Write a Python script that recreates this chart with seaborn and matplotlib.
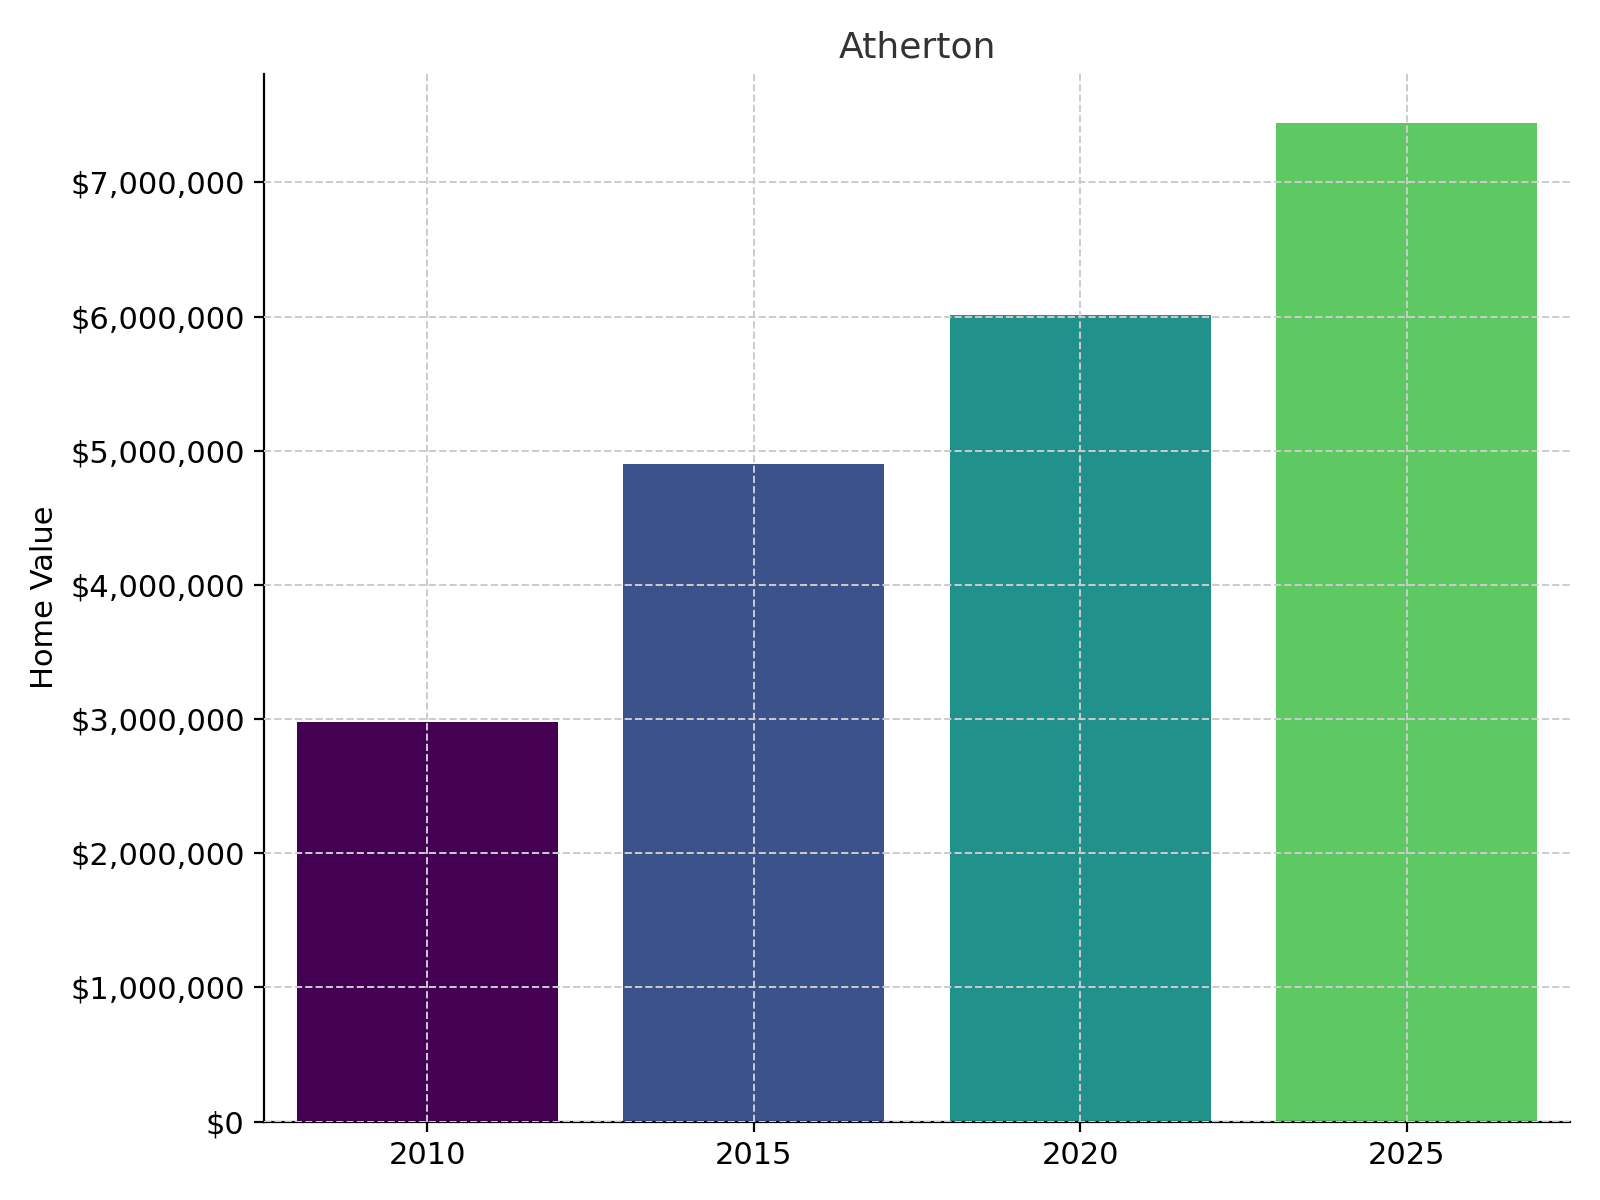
import matplotlib
matplotlib.use("Agg")
import matplotlib.pyplot as plt
import seaborn as sns
import pandas as pd
from matplotlib.ticker import FuncFormatter

years = ["2010", "2015", "2020", "2025"]
values = [2980000, 4900000, 6010000, 7440000]
colors = ["#440154", "#3b528b", "#21918c", "#5ec962"]

df = pd.DataFrame({"Year": years, "Value": values})
fig, ax = plt.subplots(figsize=(8, 6), dpi=200)
sns.barplot(data=df, x="Year", y="Value", hue="Year", palette=colors, legend=False,
            ax=ax, width=0.8, saturation=1)
ax.set_title("Atherton", fontsize=13, color="#333333")
ax.set_xlabel("")
ax.set_ylabel("Home Value", fontsize=11)
ax.yaxis.set_major_formatter(FuncFormatter(lambda v, p: f"${v:,.0f}"))
ax.tick_params(labelsize=11)
ax.set_ylim(0, 7810000)
ax.grid(True, linestyle="--", color="#cccccc", linewidth=0.7)
ax.set_axisbelow(False)
for s in ["top", "right"]:
    ax.spines[s].set_visible(False)
plt.tight_layout()
fig.savefig("out.png")
